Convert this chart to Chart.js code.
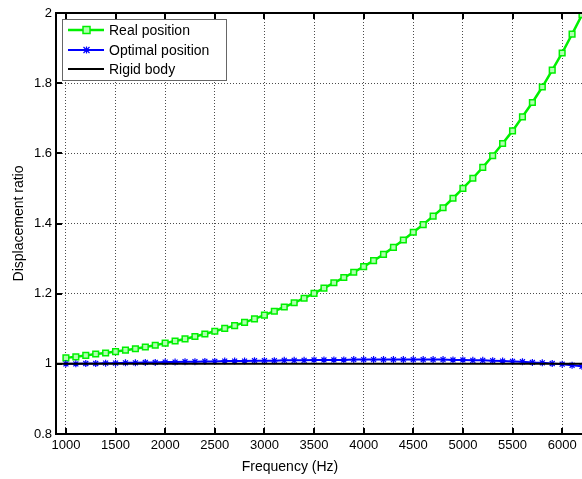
<!DOCTYPE html>
<html>
<head>
<meta charset="utf-8">
<script src="https://cdn.jsdelivr.net/npm/chart.js@4/dist/chart.umd.min.js"></script>
<style>
html,body{margin:0;padding:0;background:#fff;}
#wrap{width:582px;height:479px;position:relative;}
</style>
</head>
<body>
<div id="wrap"><canvas id="c" width="582" height="479"></canvas></div>
<script>
const freqs = [1000,1100,1200,1300,1400,1500,1600,1700,1800,1900,2000,2100,2200,2300,2400,2500,2600,2700,2800,2900,3000,3100,3200,3300,3400,3500,3600,3700,3800,3900,4000,4100,4200,4300,4400,4500,4600,4700,4800,4900,5000,5100,5200,5300,5400,5500,5600,5700,5800,5900,6000,6100,6200];
const realPosition = [1.017,1.020,1.024,1.028,1.031,1.035,1.039,1.043,1.048,1.053,1.059,1.065,1.071,1.078,1.085,1.093,1.101,1.109,1.118,1.128,1.139,1.150,1.162,1.174,1.187,1.201,1.216,1.231,1.246,1.261,1.277,1.294,1.312,1.332,1.353,1.375,1.397,1.421,1.445,1.472,1.500,1.529,1.560,1.593,1.628,1.664,1.704,1.745,1.789,1.837,1.886,1.940,1.995];
const optimalPosition = [1.000,1.000,1.001,1.001,1.002,1.002,1.003,1.003,1.004,1.004,1.005,1.005,1.006,1.006,1.007,1.007,1.008,1.008,1.008,1.009,1.009,1.009,1.010,1.010,1.010,1.011,1.011,1.011,1.011,1.012,1.012,1.012,1.012,1.012,1.012,1.012,1.012,1.012,1.012,1.011,1.011,1.010,1.010,1.009,1.008,1.007,1.006,1.004,1.003,1.001,0.999,0.996,0.993];
const rigidX = [900, 6200];
const rigidY = [1, 1];
const xTicks = [1000,1500,2000,2500,3000,3500,4000,4500,5000,5500,6000];
const yTicks = [0.8,1.0,1.2,1.4,1.6,1.8,2.0];
const yTickLabels = ['0.8','1','1.2','1.4','1.6','1.8','2'];
const seriesNames = ['Real position','Optimal position','Rigid body'];
const xTitle = 'Frequency (Hz)';
const yTitle = 'Displacement ratio';

const FONT = '"Liberation Sans", Helvetica, Arial, sans-serif';
const GREEN = '#00f000', BLUE = '#0000ff', BLACK = '#000000';

function pts(xs, ys){ return xs.map((x,i)=>({x:x, y:ys[i]})); }

const framePlugin = {
  id:'frame',
  afterDatasetsDraw(chart){
    const ctx = chart.ctx, a = chart.chartArea;
    const xs = chart.scales.x, ys = chart.scales.y;
    ctx.save();
    ctx.strokeStyle = '#000';
    ctx.lineWidth = 2;
    ctx.beginPath();
    ctx.moveTo(a.right + 2, a.top); ctx.lineTo(a.left, a.top);
    ctx.lineTo(a.left, a.bottom); ctx.lineTo(a.right + 2, a.bottom);
    ctx.stroke();
    ctx.beginPath();
    xs.ticks.forEach((t,i)=>{
      const px = Math.round(xs.getPixelForTick(i));
      ctx.moveTo(px, a.bottom); ctx.lineTo(px, a.bottom - 6);
      ctx.moveTo(px, a.top); ctx.lineTo(px, a.top + 6);
    });
    ys.ticks.forEach((t,i)=>{
      const py = Math.round(ys.getPixelForTick(i));
      ctx.moveTo(a.left, py); ctx.lineTo(a.left + 6, py);
    });
    ctx.stroke();
    ctx.restore();
  },
  afterDraw(chart){
    const ctx = chart.ctx, a = chart.chartArea;
    ctx.save();
    ctx.fillStyle = '#000';
    ctx.font = '14px ' + FONT;
    ctx.textAlign = 'center';
    ctx.textBaseline = 'middle';
    ctx.fillText(xTitle, 290, 467);
    ctx.translate(19, (a.top + a.bottom)/2);
    ctx.rotate(-Math.PI/2);
    ctx.fillText(yTitle, 0, 0);
    ctx.restore();

    // legend
    ctx.save();
    const bx = 62, by = 19, bw = 164, bh = 61;
    ctx.fillStyle = '#fff';
    ctx.fillRect(bx, by, bw, bh);
    ctx.strokeStyle = '#666';
    ctx.lineWidth = 1;
    ctx.strokeRect(bx + 0.5, by + 0.5, bw, bh);
    const rows = [30, 50, 69];
    const colors = [GREEN, BLUE, BLACK];
    const widths = [2.5, 2, 2];
    ctx.font = '14px ' + FONT;
    ctx.textBaseline = 'middle';
    ctx.textAlign = 'left';
    rows.forEach((ry, i)=>{
      ctx.strokeStyle = colors[i];
      ctx.lineWidth = widths[i];
      ctx.beginPath(); ctx.moveTo(68, ry); ctx.lineTo(104, ry); ctx.stroke();
      if (i === 0){
        ctx.fillStyle = '#b0ffb0';
        ctx.lineWidth = 1.5;
        ctx.fillRect(83, ry-3.5, 7, 7);
        ctx.strokeRect(83, ry-3.5, 7, 7);
      } else if (i === 1){
        ctx.lineWidth = 1.2;
        ctx.beginPath();
        ctx.moveTo(86.5-3, ry-3); ctx.lineTo(86.5+3, ry+3);
        ctx.moveTo(86.5+3, ry-3); ctx.lineTo(86.5-3, ry+3);
        ctx.moveTo(86.5, ry-3.5); ctx.lineTo(86.5, ry+3.5);
        ctx.stroke();
      }
      ctx.fillStyle = '#000';
      ctx.fillText(seriesNames[i], 109, ry + 1);
    });
    ctx.restore();
  }
};

new Chart(document.getElementById('c'), {
  type: 'scatter',
  data: {
    datasets: [
      { label: seriesNames[0], data: pts(freqs, realPosition), showLine: true,
        borderColor: GREEN, borderWidth: 2.5, pointStyle: 'rect', pointRadius: 4,
        pointBorderWidth: 1.5, pointBorderColor: GREEN, pointBackgroundColor: '#b0ffb0', order: 3 },
      { label: seriesNames[1], data: pts(freqs, optimalPosition), showLine: true,
        borderColor: BLUE, borderWidth: 2, pointStyle: 'star', pointRadius: 3.5,
        pointBorderWidth: 1.2, pointBorderColor: BLUE, pointBackgroundColor: BLUE, order: 2 },
      { label: seriesNames[2], data: pts(rigidX, rigidY), showLine: true,
        borderColor: BLACK, borderWidth: 2, pointRadius: 0, order: 1 }
    ]
  },
  options: {
    responsive: false,
    animation: false,
    events: [],
    layout: { autoPadding: false, padding: { top: 13, right: 0, left: 0, bottom: 0 } },
    plugins: { legend: { display: false }, tooltip: { enabled: false }, title: { display: false } },
    scales: {
      x: {
        type: 'linear', min: 900, max: 6200,
        afterBuildTicks(s){ s.ticks = xTicks.map(v=>({value:v})); },
        afterFit(s){ s.height = 45; s.paddingLeft = 0; s.paddingRight = 0; },
        grid: { color: 'rgba(0,0,0,0.7)', lineWidth: 1, drawTicks: false },
        border: { display: false, dash: [1,2] },
        ticks: { padding: 4, maxRotation: 0, autoSkip: false, color: '#000',
                 font: { family: FONT, size: 13 }, callback: (v)=>String(v) }
      },
      y: {
        type: 'linear', min: 0.8, max: 2,
        afterBuildTicks(s){ s.ticks = yTicks.map(v=>({value:v})); },
        afterFit(s){ s.width = 56; s.paddingTop = 0; s.paddingBottom = 0; },
        grid: { color: 'rgba(0,0,0,0.7)', lineWidth: 1, drawTicks: false },
        border: { display: false, dash: [1,2] },
        ticks: { padding: 4, color: '#000', font: { family: FONT, size: 13 },
                 callback: (v, i)=>yTickLabels[i] }
      }
    }
  },
  plugins: [framePlugin]
});
</script>
</body>
</html>
